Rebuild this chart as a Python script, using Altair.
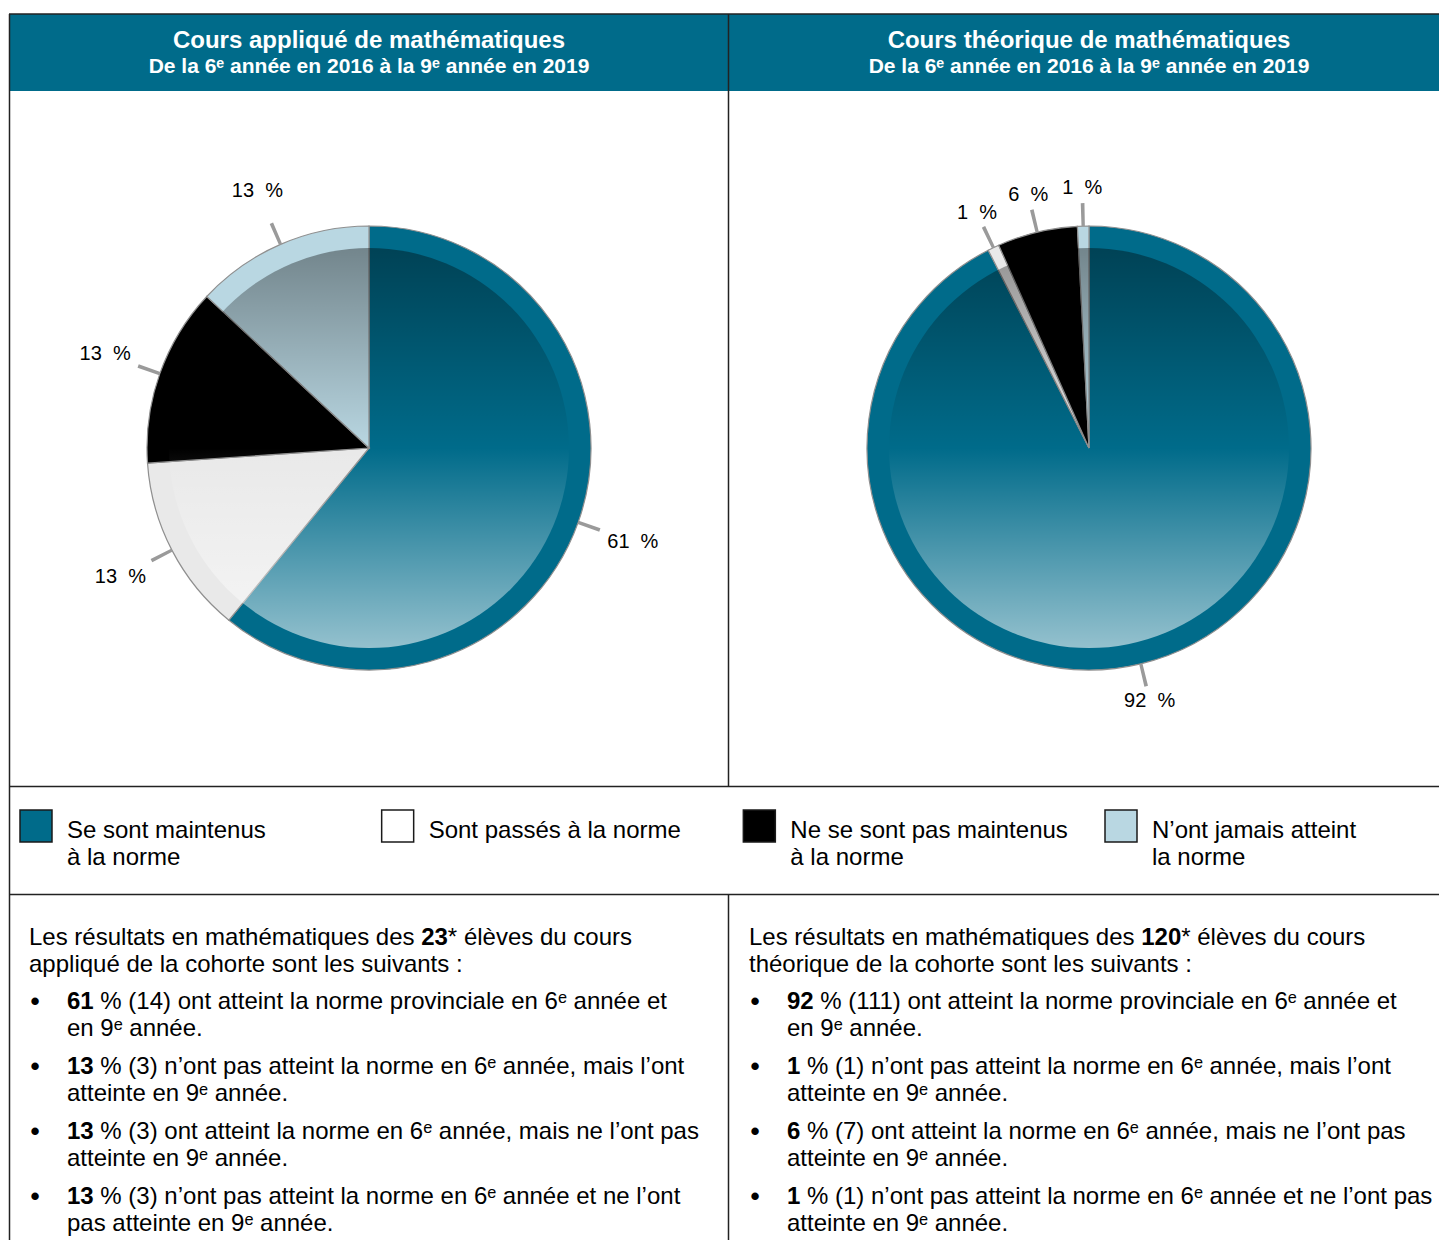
import altair as alt
import pandas as pd

# ---------------- data ----------------
categories = [
    "Se sont maintenus à la norme",
    "Sont passés à la norme",
    "Ne se sont pas maintenus à la norme",
    "N’ont jamais atteint la norme",
]
legend_labels = [
    "Se sont maintenus\nà la norme",
    "Sont passés à la norme",
    "Ne se sont pas maintenus\nà la norme",
    "N’ont jamais atteint\nla norme",
]
applied_counts = [14, 3, 3, 3]
academic_counts = [111, 1, 7, 1]
applied_pcts = [61, 13, 13, 13]
academic_pcts = [92, 1, 6, 1]
applied_total = 23
academic_total = 120
panel_titles = ["Cours appliqué de mathématiques", "Cours théorique de mathématiques"]
panel_subtitle = "De la 6ᵉ année en 2016 à la 9ᵉ année en 2019"
course_words = ["appliqué", "théorique"]
bullet_texts = [
    "ont atteint la norme provinciale en 6ᵉ année et",
    "n’ont pas atteint la norme en 6ᵉ année, mais l’ont",
    "ont atteint la norme en 6ᵉ année, mais ne l’ont pas",
    "n’ont pas atteint la norme en 6ᵉ année et ne l’ont",
]
bullet_second = ["en 9ᵉ année.", "atteinte en 9ᵉ année.", "atteinte en 9ᵉ année.", "pas atteinte en 9ᵉ année."]
bullet_texts_right = [
    "ont atteint la norme provinciale en 6ᵉ année et",
    "n’ont pas atteint la norme en 6ᵉ année, mais l’ont",
    "ont atteint la norme en 6ᵉ année, mais ne l’ont pas",
    "n’ont pas atteint la norme en 6ᵉ année et ne l’ont pas",
]
bullet_second_right = ["en 9ᵉ année.", "atteinte en 9ᵉ année.", "atteinte en 9ᵉ année.", "atteinte en 9ᵉ année."]

# ---------------- styles ----------------
FONT = "Liberation Sans"
TEAL = "#006b8a"
slice_colors = [TEAL, "#e9e9e9", "#000000", "#b9d7e2"]
legend_colors = [TEAL, "#ffffff", "#000000", "#b9d7e2"]
FS = 24

rows = []
for pie, counts, pcts in [("app", applied_counts, applied_pcts), ("acad", academic_counts, academic_pcts)]:
    for i, (c, n, p) in enumerate(zip(categories, counts, pcts)):
        rows.append({"pie": pie, "cat": c, "n": n, "pct": p, "ord": i})
pie_df = pd.DataFrame(rows)
one = pd.DataFrame({"k": [0]})

theta_scale = alt.Scale(domain=[0, 1])
grad = alt.LinearGradient(
    gradient="linear",
    stops=[
        alt.GradientStop(offset=0, color="rgba(0,0,0,0.38)"),
        alt.GradientStop(offset=0.5, color="rgba(0,0,0,0)"),
        alt.GradientStop(offset=0.5, color="rgba(255,255,255,0)"),
        alt.GradientStop(offset=1, color="rgba(255,255,255,0.58)"),
    ],
    x1=0, x2=0, y1=0, y2=1,
)


def pie_layers(pie, cx, cy, label_r):
    base = (
        alt.Chart(pie_df)
        .transform_filter(alt.datum.pie == pie)
        .transform_joinaggregate(total="sum(n)")
        .transform_calculate(frac="datum.n / datum.total")
    )
    pos = dict(x=alt.value(cx), y=alt.value(cy))
    slices = base.mark_arc(outerRadius=222, stroke="#8f8f8f", strokeWidth=1.2).encode(
        theta=alt.Theta("frac:Q", stack=True, scale=theta_scale),
        color=alt.Color("cat:N", scale=alt.Scale(domain=categories, range=slice_colors), legend=None),
        order=alt.Order("ord:Q"),
        **pos,
    )
    disc = base.transform_aggregate(f="sum(frac)").mark_arc(outerRadius=200, fill=grad, strokeWidth=0).encode(
        theta=alt.Theta("f:Q", scale=theta_scale), **pos
    )
    stacked = (
        base.transform_window(cum="sum(frac)", sort=[alt.SortField("ord", order="ascending")])
        .transform_calculate(mid="datum.cum - datum.frac / 2")
        .transform_calculate(lo="datum.mid - 0.0012")
        .transform_calculate(hi="datum.mid + 0.0012")
        .transform_calculate(lab="datum.pct + '\u00a0\u00a0%'")
    )
    leaders = stacked.mark_arc(innerRadius=222, outerRadius=245, fill="#9a9a9a").encode(
        theta=alt.Theta("lo:Q", scale=theta_scale, stack=False), theta2="hi:Q", **pos
    )
    labels = stacked.mark_text(radius=label_r, fontSize=20, font=FONT, align="center", baseline="middle", color="#000").encode(
        theta=alt.Theta("mid:Q", scale=theta_scale, stack=False), text="lab:N", **pos
    )
    return [slices, disc, leaders, labels]


def rule(x1, y1, x2, y2, color="#222222", w=1.5):
    return alt.Chart(one).mark_rule(color=color, strokeWidth=w).encode(
        x=alt.value(x1), x2=alt.value(x2), y=alt.value(y1), y2=alt.value(y2)
    )


def txt(s, x, y, bold=False, size=FS, color="#000", align="left"):
    return alt.Chart(one).mark_text(
        font=FONT, fontSize=size, fontWeight="bold" if bold else "normal", color=color,
        align=align, baseline="middle",
    ).encode(x=alt.value(x), y=alt.value(y), text=alt.value(s))


layers = []
# header bar
layers.append(alt.Chart(one).mark_rect(color=TEAL).encode(
    x=alt.value(9), x2=alt.value(1439), y=alt.value(14), y2=alt.value(91)))
# frame lines
layers += [
    rule(9.5, 14, 9.5, 1240),
    rule(9, 14, 1439, 14),
    rule(728.5, 14, 728.5, 786),
    rule(728.5, 894, 728.5, 1240),
    rule(9, 786.5, 1439, 786.5),
    rule(9, 894.5, 1439, 894.5),
]
# titles
for cx, t in zip([369, 1089], panel_titles):
    layers.append(txt(t, cx, 41, bold=True, size=24, color="#ffffff", align="center"))
    layers.append(txt(panel_subtitle, cx, 67, bold=True, size=21, color="#ffffff", align="center"))

# pies
layers += pie_layers("app", 369, 448, 280)
layers += pie_layers("acad", 1089, 448, 260)

# legend
legend_df = pd.DataFrame({"cat": categories, "lab": legend_labels})
xs = alt.X("cat:N", scale=alt.Scale(type="point", domain=categories, range=[36, 1121], padding=0), axis=None)
layers.append(alt.Chart(legend_df).mark_square(size=1024, stroke="#1a1a1a", strokeWidth=1.5, opacity=1).encode(
    x=xs, y=alt.value(826),
    fill=alt.Fill("cat:N", scale=alt.Scale(domain=categories, range=legend_colors), legend=None),
))
layers.append(alt.Chart(legend_df).mark_text(
    align="left", baseline="alphabetic", dx=31, fontSize=FS, lineHeight=27, lineBreak="\n", font=FONT, color="#000"
).encode(x=xs, y=alt.value(838), text="lab:N"))

# body text
prefix = "Les résultats en mathématiques des "
prefix_w = 16.341 * FS
digit_w = 0.556 * FS
space_w = 0.278 * FS
for off, total, word, pcts, counts, texts, seconds in [
    (0, applied_total, course_words[0], applied_pcts, applied_counts, bullet_texts, bullet_second),
    (720, academic_total, course_words[1], academic_pcts, academic_counts, bullet_texts_right, bullet_second_right),
]:
    x0 = 29 + off
    layers.append(txt(prefix, x0, 938))
    bx = x0 + prefix_w
    layers.append(txt(str(total), bx, 938, bold=True))
    layers.append(txt("* élèves du cours", bx + digit_w * len(str(total)), 938))
    layers.append(txt(f"{word} de la cohorte sont les suivants :", x0, 965))
    ys = [1002, 1067, 1132, 1197]
    for y, p, n, t, s2 in zip(ys, pcts, counts, texts, seconds):
        tx = 67 + off
        layers.append(txt("•", 35 + off, y, bold=True, size=26, align="center"))
        layers.append(txt(str(p), tx, y, bold=True))
        layers.append(txt(f"% ({n}) {t}", tx + digit_w * len(str(p)) + space_w, y))
        layers.append(txt(s2, tx, y + 27))

chart = (
    alt.layer(*layers)
    .properties(width=1439, height=1240, autosize=alt.AutoSizeParams(type="none"), padding=0, background="white")
    .configure_view(stroke=None)
)
chart.save("out.html", embed_options={"renderer": "svg", "actions": False})
